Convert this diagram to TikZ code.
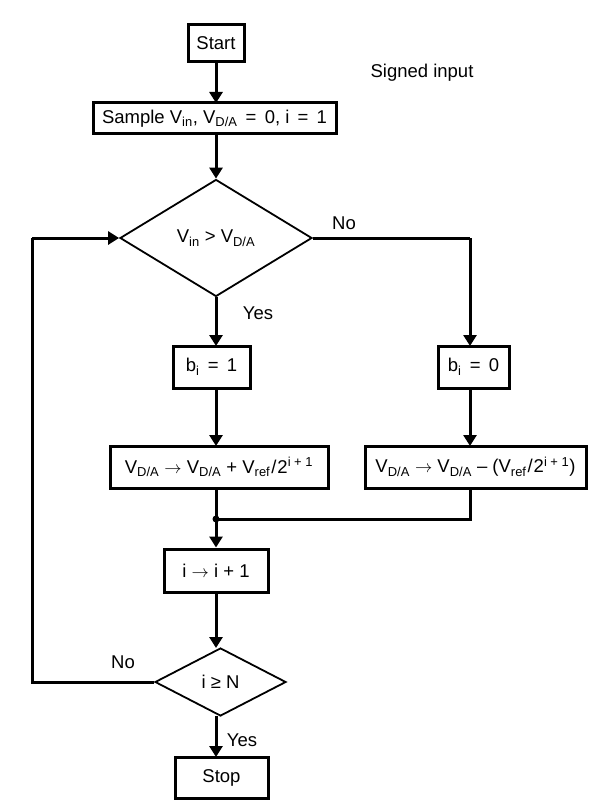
\documentclass[tikz,border=0pt]{standalone}
\usepackage{fontspec}
\setmainfont{Liberation Sans}
\usetikzlibrary{arrows.meta,shapes.geometric}
\newcommand{\ra}{\ensuremath{\rightarrow}}
\newcommand{\eqs}{\ \,=\ \,}
\begin{document}
\begin{tikzpicture}[x=1pt,y=-1pt,
  font=\fontsize{18.5}{21}\selectfont,
  box/.style={draw,line width=3pt,inner sep=0pt,anchor=center},
  dia/.style={draw,line width=1.8pt,diamond,inner sep=0pt,anchor=center},
  con/.style={line width=3pt},
  arr/.style={line width=3pt,-{Triangle[width=13pt,length=11pt]}},
  lbl/.style={inner sep=0pt,anchor=center}]
\useasboundingbox (0,0) rectangle (596,810);
\node[box,minimum width=56pt,minimum height=37pt] (start) at (216,43) {Start};
\node[lbl] (signed) at (422,73) {Signed input};
\node[box,minimum width=243pt,minimum height=31pt] (sample) at (214.5,118.5) {Sample V\textsubscript{in}, V\textsubscript{D/A}\eqs0, i\eqs1};
\node[dia,minimum width=192pt,minimum height=117pt] (d1) at (216,238) {V\textsubscript{in} > V\textsubscript{D/A}};
\node[box,minimum width=77pt,minimum height=42pt] (b1) at (211.5,367) {b\textsubscript{i}\eqs1};
\node[box,minimum width=71pt,minimum height=42pt] (b0) at (473.5,367) {b\textsubscript{i}\eqs0};
\node[box,minimum width=218pt,minimum height=42pt] (up) at (219,467) {V\textsubscript{D/A} \ra\ V\textsubscript{D/A} + V\textsubscript{ref}\kern1pt/\kern1pt2\textsuperscript{i + 1}};
\node[box,minimum width=221pt,minimum height=42pt] (dn) at (475.5,467) {V\textsubscript{D/A} \ra\ V\textsubscript{D/A} – (V\textsubscript{ref}\kern1pt/\kern1pt2\textsuperscript{i + 1})};
\coordinate (j) at (216,519);
\node[box,minimum width=104pt,minimum height=43pt] (inc) at (216,570.5) {i \ra\ i + 1};
\node[dia,minimum width=131pt,minimum height=68pt] (d2) at (220.5,682) {i ≥ N};
\node[box,minimum width=93pt,minimum height=41pt] (stop) at (221.5,777.5) {Stop};
\coordinate (lc1) at (32,682);
\coordinate (lc2) at (32,238);
\coordinate (rc) at (470,238);
\node[lbl] (no1) at (344,223) {No};
\node[lbl] (yes1) at (258,313) {Yes};
\node[lbl] (no2) at (123,662) {No};
\node[lbl] (yes2) at (242,740) {Yes};
\draw[arr] (216,62) -- (216,103);
\draw[arr] (216,134) -- (d1.north);
\draw[arr] (d1.south) -- (216,346);
\draw[con] (d1.east) -- (rc);
\draw[arr] (rc) -- (470,346);
\draw[arr] (216,388) -- (216,446);
\draw[arr] (470,388) -- (470,446);
\draw[con] (470,488) |- (j);
\draw[con] (216,488) -- (j);
\fill (j) circle (3.5pt);
\draw[arr] (j) -- (inc.north -| j);
\draw[arr] (216,592) -- (216,648);
\draw[con] (d2.west) -- (lc1) -- (lc2);
\draw[arr] (lc2) -- (d1.west);
\draw[arr] (216,716) -- (216,757);
\end{tikzpicture}
\end{document}
